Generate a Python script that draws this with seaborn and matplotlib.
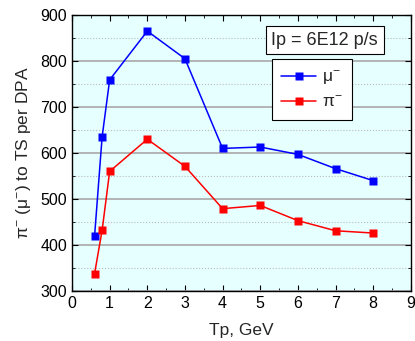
import numpy as np
import pandas as pd
import matplotlib
matplotlib.use('Agg')
import matplotlib.pyplot as plt
import seaborn as sns
from matplotlib.ticker import MultipleLocator

tp = [0.6, 0.8, 1, 2, 3, 4, 5, 6, 7, 8]
mu_vals = [420, 635, 759, 865, 805, 610, 613, 597, 566, 540]
pi_vals = [338, 432, 560, 630, 571, 479, 486, 453, 431, 426]

df = pd.DataFrame({
    'Tp': tp * 2,
    'val': mu_vals + pi_vals,
    'series': ['\u03bc$^{-}$'] * len(tp) + ['\u03c0$^{-}$'] * len(tp),
})

sns.set_style('ticks')
plt.rcParams['font.family'] = ['Liberation Sans', 'DejaVu Sans']
plt.rcParams['mathtext.fontset'] = 'custom'
plt.rcParams['mathtext.rm'] = 'Liberation Sans'

fig = plt.figure(figsize=(4.15, 3.41), dpi=100)
ax = fig.add_axes([0.1735, 0.1466, 0.8165, 0.8094])
ax.set_facecolor('#e6ffff')

sns.lineplot(data=df, x='Tp', y='val', hue='series',
             palette=['#0000ff', '#ff0000'], marker='s', markersize=6,
             markeredgecolor='none', linewidth=1.1, ax=ax)

ax.set_xlim(0, 9)
ax.set_ylim(300, 900)
ax.xaxis.set_major_locator(MultipleLocator(1))
ax.yaxis.set_major_locator(MultipleLocator(100))
ax.yaxis.set_minor_locator(MultipleLocator(50))
ax.xaxis.set_minor_locator(MultipleLocator(0.5))
ax.grid(which='major', axis='y', color='#a8a8a8', linewidth=1.2)
ax.grid(which='minor', axis='y', color='#bbbbbb', linewidth=0.8, linestyle=':')
ax.set_axisbelow(True)
ax.tick_params(which='both', direction='in', top=True, right=True,
               labelsize=11.5, colors='black')
ax.tick_params(which='major', length=4)
ax.tick_params(which='minor', length=2)
for s in ax.spines.values():
    s.set_color('black')
    s.set_linewidth(1.0)

ax.set_xlabel('Tp, GeV', fontsize=12.5, labelpad=9)
ax.set_ylabel('\u03c0$^{-}$ (\u03bc$^{-}$) to TS per DPA', fontsize=12.5, labelpad=5)

ax.text(0.746, 0.908, 'Ip = 6E12 p/s', transform=ax.transAxes, fontsize=13,
        ha='center', va='center',
        bbox=dict(boxstyle='square,pad=0.3', facecolor='white', edgecolor='black', linewidth=0.8))

leg = ax.legend(loc='upper left', bbox_to_anchor=(0.59, 0.841), fontsize=12.5,
                frameon=True, fancybox=False, edgecolor='black', framealpha=1,
                handlelength=2.0, handletextpad=0.35, borderpad=0.55,
                labelspacing=0.4, borderaxespad=0)
leg.get_frame().set_linewidth(0.8)
leg.set_title(None)

fig.savefig('out.png', dpi=100)
